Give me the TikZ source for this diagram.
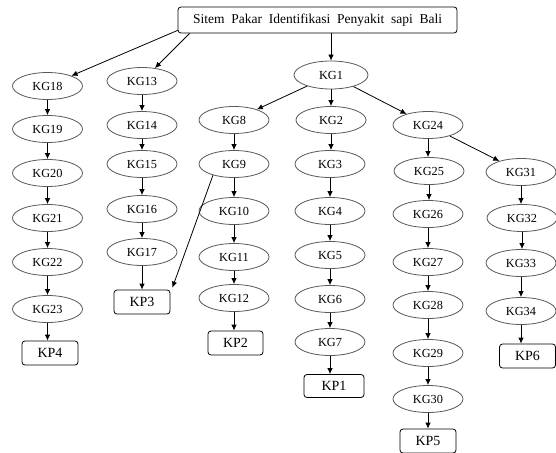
\documentclass[tikz,border=0pt]{standalone}
\usepackage{fontspec}
\setmainfont{Liberation Serif}
\usetikzlibrary{shapes.geometric,arrows.meta}
\tikzset{
  kg/.style={ellipse,draw=black!65,line width=0.8pt,minimum width=70pt,minimum height=27pt,inner sep=0pt,font=\fontsize{12.3}{12.3}\selectfont},
  kp/.style={rectangle,rounded corners=3pt,draw=black,line width=0.8pt,minimum width=56pt,minimum height=24pt,inner sep=0pt,font=\fontsize{14}{14}\selectfont},
  arr/.style={draw=black,line width=0.8pt,-{Latex[length=6pt,width=5.5pt]}}
}
\begin{document}
\begin{tikzpicture}[x=1pt,y=-1pt]
\useasboundingbox[fill=white] (0,0) rectangle (556,452);
\node[kp,minimum width=279pt,minimum height=26pt,font=\fontsize{13.5}{13.5}\selectfont] (title) at (317.5,20) {Sitem\ \ Pakar\ \ Identifikasi\ \ Penyakit\ \ sapi\ \ Bali};
% column 1
\node[kg] (kg18) at (47.5,86) {KG18};
\node[kg] (kg19) at (47.5,129) {KG19};
\node[kg] (kg20) at (47.5,173) {KG20};
\node[kg] (kg21) at (47.5,218) {KG21};
\node[kg] (kg22) at (47.5,262) {KG22};
\node[kg] (kg23) at (47.5,309) {KG23};
\node[kp] (kp4) at (50,353) {KP4};
% column 2
\node[kg] (kg13) at (142,81) {KG13};
\node[kg] (kg14) at (142,125) {KG14};
\node[kg] (kg15) at (142,164) {KG15};
\node[kg] (kg16) at (142,209) {KG16};
\node[kg] (kg17) at (142,252) {KG17};
\node[kp] (kp3) at (142,302) {KP3};
% KG1
\node[kg,minimum width=74pt,minimum height=28pt] (kg1) at (331,75) {KG1};
% column 3
\node[kg] (kg8) at (234,120) {KG8};
\node[kg] (kg9) at (234,164) {KG9};
\node[kg] (kg10) at (234,211) {KG10};
\node[kg] (kg11) at (234,257) {KG11};
\node[kg] (kg12) at (234,298) {KG12};
\node[kp,minimum width=55pt] (kp2) at (235.5,343) {KP2};
% column 4
\node[kg] (kg2) at (331,120) {KG2};
\node[kg] (kg3) at (330,164) {KG3};
\node[kg] (kg4) at (330,211) {KG4};
\node[kg] (kg5) at (330,255) {KG5};
\node[kg] (kg6) at (330,299) {KG6};
\node[kg] (kg7) at (330,342) {KG7};
\node[kp,minimum width=60pt,minimum height=23pt] (kp1) at (334,386) {KP1};
% column 5
\node[kg] (kg24) at (428,125) {KG24};
\node[kg] (kg25) at (429,171) {KG25};
\node[kg] (kg26) at (428,214) {KG26};
\node[kg] (kg27) at (428,262) {KG27};
\node[kg] (kg28) at (428,305) {KG28};
\node[kg] (kg29) at (428,353) {KG29};
\node[kg] (kg30) at (428,399) {KG30};
\node[kp] (kp5) at (428,441) {KP5};
% column 6
\node[kg] (kg31) at (521,172) {KG31};
\node[kg] (kg32) at (522,218) {KG32};
\node[kg] (kg33) at (521,263) {KG33};
\node[kg] (kg34) at (521,311) {KG34};
\node[kp] (kp6) at (527.5,356) {KP6};
% connectors from title
\draw[arr] ([yshift=3pt]title.south west) -- (kg18);
\draw[arr] ([xshift=12pt]title.south west) -- (kg13);
\draw[arr] (title.south -| kg1.north) -- (kg1.north);
\draw[arr] (kg1) -- (kg8);
\draw[arr] (kg1.south) -- (kg1.south |- kg2.north);
\draw[arr] (kg1) -- (kg24);
\draw[arr] (kg24) -- (kg31);
\draw[arr] (kg9.208) -- ([xshift=2pt,yshift=2pt]kp3.north east);
% vertical chains
\foreach \a/\b in {kg18/kg19,kg19/kg20,kg20/kg21,kg21/kg22,kg22/kg23,kg23/kp4,
  kg13/kg14,kg14/kg15,kg15/kg16,kg16/kg17,kg17/kp3,
  kg8/kg9,kg9/kg10,kg10/kg11,kg11/kg12,kg12/kp2,
  kg2/kg3,kg3/kg4,kg4/kg5,kg5/kg6,kg6/kg7,kg7/kp1,
  kg24/kg25,kg25/kg26,kg26/kg27,kg27/kg28,kg28/kg29,kg29/kg30,kg30/kp5,
  kg31/kg32,kg32/kg33,kg33/kg34,kg34/kp6}
  \draw[arr] (\a.south) -- (\a.south |- \b.north);
\end{tikzpicture}
\end{document}
